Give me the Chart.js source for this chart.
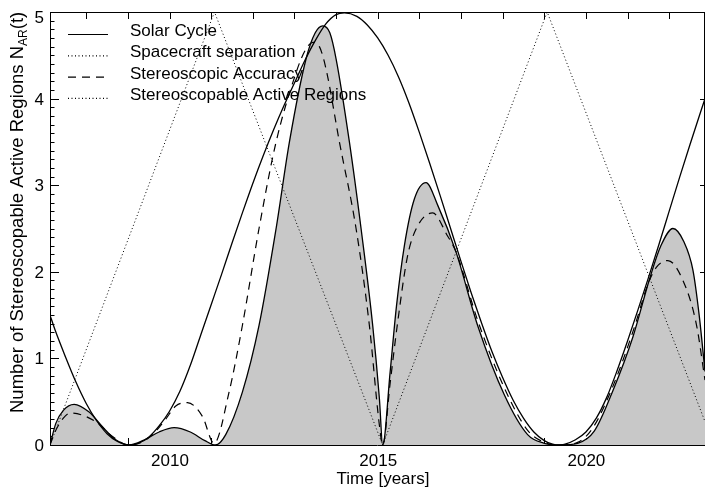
<!DOCTYPE html>
<html lang="en">
<head>
  <meta charset="UTF-8">
  <title>Stereoscopable Active Regions</title>
  <script src="https://cdn.jsdelivr.net/npm/chart.js"></script>
  <style>
    html, body { margin: 0; padding: 0; background: #fff; }
    #wrap { width: 706px; height: 489px; }
  </style>
</head>
<body>
  <div id="wrap"><canvas id="chart" width="706" height="489"></canvas></div>

  <script>
    // values (years, N_AR)
    const solarYears = [2007.13, 2007.25, 2007.5, 2007.75, 2008.0, 2008.25, 2008.5, 2008.75, 2009.03, 2009.25,
      2009.5, 2009.75, 2010.0, 2010.25, 2010.5, 2010.75, 2011.0, 2011.25, 2011.5, 2011.75,
      2012.0, 2012.25, 2012.5, 2012.75, 2013.0, 2013.25, 2013.5, 2013.75, 2014.0, 2014.2,
      2014.5, 2014.75, 2015.0, 2015.25, 2015.5, 2015.75, 2016.0, 2016.25, 2016.5, 2016.75,
      2017.0, 2017.25, 2017.5, 2017.75, 2018.0, 2018.25, 2018.5, 2018.75, 2019.0, 2019.2,
      2019.36, 2019.5, 2019.75, 2020.0, 2020.25, 2020.5, 2020.75, 2021.0, 2021.25, 2021.5,
      2021.75, 2022.0, 2022.25, 2022.5, 2022.75, 2022.86];
    const solarValues = [1.50, 1.33, 1.02, 0.73, 0.48, 0.28, 0.13, 0.04, 0, 0.02,
      0.09, 0.22, 0.39, 0.62, 0.92, 1.27, 1.62, 1.97, 2.33, 2.68,
      3.02, 3.34, 3.64, 3.92, 4.18, 4.44, 4.67, 4.86, 4.97, 4.99,
      4.95, 4.85, 4.7, 4.5, 4.25, 3.95, 3.61, 3.25, 2.88, 2.5,
      2.12, 1.75, 1.4, 1.07, 0.78, 0.52, 0.31, 0.15, 0.05, 0.01,
      0, 0.01, 0.06, 0.15, 0.31, 0.55, 0.86, 1.2, 1.56, 1.93,
      2.31, 2.7, 3.09, 3.47, 3.84, 4.0];

    const sepYears = [2007.13, 2011.08, 2015.12, 2019.07, 2022.86];
    const sepValues = [0, 5, 0, 5, 0.27];

    const accYears = [2007.13, 2007.27, 2007.45, 2007.63, 2007.99, 2008.31, 2008.6, 2009.03, 2009.4, 2009.67,
      2009.91, 2010.15, 2010.43, 2010.79, 2011.07, 2011.43, 2011.75, 2012.15, 2012.56, 2013.04,
      2013.25, 2013.44, 2013.6, 2013.76, 2014.08, 2014.48, 2014.8, 2015.04, 2015.12, 2015.3,
      2015.48, 2015.72, 2015.96, 2016.32, 2016.67, 2016.88, 2017.4, 2018.05, 2018.6, 2019.0,
      2019.36, 2019.8, 2020.17, 2020.65, 2021.13, 2021.5, 2021.69, 2021.97, 2022.33, 2022.65,
      2022.86];
    const accValues = [0, 0.17, 0.31, 0.37, 0.33, 0.24, 0.11, 0, 0.05, 0.16,
      0.30, 0.45, 0.49, 0.33, 0.02, 0.61, 1.38, 2.5, 3.5, 4.3,
      4.55, 4.65, 4.6, 4.34, 3.5, 2.5, 1.38, 0.23, 0, 0.72,
      1.42, 2.19, 2.53, 2.68, 2.42, 2.23, 1.44, 0.65, 0.17, 0.03,
      0, 0.03, 0.2, 0.68, 1.31, 1.87, 2.05, 2.13, 1.90, 1.40,
      0.75];

    const regionYears = [2007.13, 2007.27, 2007.45, 2007.71, 2008.07, 2008.39, 2008.71, 2009.03, 2009.4, 2009.75,
      2010.11, 2010.5, 2010.85, 2011.1, 2011.35, 2011.75, 2012.15, 2012.56, 2012.88, 2013.28,
      2013.5, 2013.68, 2013.85, 2014.0, 2014.32, 2014.6, 2014.88, 2015.04, 2015.12, 2015.3,
      2015.45, 2015.64, 2015.88, 2016.16, 2016.44, 2016.88, 2017.4, 2018.04, 2018.6, 2019.0,
      2019.36, 2019.8, 2020.2, 2020.65, 2021.13, 2021.53, 2021.8, 2022.09, 2022.35, 2022.57,
      2022.72, 2022.86];
    const regionValues = [0, 0.25, 0.40, 0.47, 0.38, 0.21, 0.06, 0, 0.06, 0.15,
      0.20, 0.15, 0.05, 0, 0.12, 0.61, 1.38, 2.5, 3.5, 4.46,
      4.76, 4.84, 4.76, 4.46, 3.5, 2.5, 1.38, 0.54, 0, 0.85,
      1.6, 2.3, 2.84, 3.03, 2.77, 2.23, 1.38, 0.58, 0.12, 0.02,
      0, 0.02, 0.16, 0.63, 1.25, 1.92, 2.3, 2.50, 2.35, 2.02,
      1.5, 0.85];

    const xTickYears = [2008, 2009, 2010, 2011, 2012, 2013, 2014, 2015, 2016, 2017, 2018, 2019, 2020, 2021, 2022];
    const xTickLabels = ['2010', '2015', '2020'];
    const yTickLabels = ['0', '1', '2', '3', '4', '5'];

    const FONT = '"Liberation Sans", Arial, Helvetica, sans-serif';
    const DASH = [8, 6];
    const DOT = [1, 2.5];

    const toPoints = (xs, ys) => xs.map((x, i) => ({ x: x, y: ys[i] }));

    // frame + inward ticks, drawn under the data so the grey fill covers the bottom
    const framePlugin = {
      id: 'frame',
      beforeDatasetsDraw(chart) {
        const { ctx, chartArea: a, scales: { x, y } } = chart;
        ctx.save();
        ctx.strokeStyle = '#000';
        ctx.lineWidth = 1;
        ctx.beginPath();
        ctx.rect(a.left + 0.5, a.top + 0.5, a.right - a.left - 1, a.bottom - a.top);
        ctx.stroke();
        ctx.beginPath();
        xTickYears.forEach(yr => {
          const px = Math.round(x.getPixelForValue(yr)) + 0.5;
          ctx.moveTo(px, a.top); ctx.lineTo(px, a.top + 7);
          ctx.moveTo(px, a.bottom); ctx.lineTo(px, a.bottom - 7);
        });
        for (let i = 0; i <= 50; i++) {
          const v = i / 10;
          const py = Math.round(y.getPixelForValue(v)) + 0.5;
          const len = i % 10 === 0 ? 9 : 4.5;
          ctx.moveTo(a.left, py); ctx.lineTo(a.left + len, py);
          if (i % 10 === 0) { ctx.moveTo(a.right, py); ctx.lineTo(a.right - 5, py); }
        }
        ctx.stroke();
        ctx.restore();
      },
      afterDraw(chart) {
        const { ctx, chartArea: a, scales: { x, y } } = chart;
        ctx.save();
        ctx.fillStyle = '#000';
        ctx.font = '17px ' + FONT;
        ctx.textBaseline = 'alphabetic';

        ctx.textAlign = 'center';
        xTickLabels.forEach(l => ctx.fillText(l, x.getPixelForValue(+l) + 0.5, 466));
        ctx.textAlign = 'right';
        yTickLabels.forEach(l => {
          const py = Math.max(y.getPixelForValue(+l), a.top + 5);
          ctx.fillText(l, 44, py + 6);
        });

        ctx.textAlign = 'center';
        ctx.fillText('Time [years]', 383, 484);

        // y title with subscript
        ctx.save();
        ctx.translate(22.5, 413);
        ctx.rotate(-Math.PI / 2);
        ctx.textAlign = 'left';
        ctx.font = '18.5px ' + FONT;
        const main = 'Number of Stereoscopable Active Regions N';
        ctx.fillText(main, 0, 0);
        let w = ctx.measureText(main).width;
        ctx.font = '12px ' + FONT;
        ctx.fillText('AR', w, 4);
        w += ctx.measureText('AR').width;
        ctx.font = '18.5px ' + FONT;
        ctx.fillText('(t)', w, 0);
        ctx.restore();

        // legend
        const items = [
          ['Solar Cycle', []],
          ['Spacecraft separation', DOT],
          ['Stereoscopic Accuracy', DASH],
          ['Stereoscopable Active Regions', DOT]
        ];
        ctx.font = '17px ' + FONT;
        ctx.textAlign = 'left';
        items.forEach((it, i) => {
          const ly = 34.5 + i * 21.3;
          ctx.beginPath();
          ctx.setLineDash(it[1]);
          ctx.lineWidth = 1.2;
          ctx.moveTo(68, ly); ctx.lineTo(108, ly);
          ctx.stroke();
          ctx.setLineDash([]);
          ctx.fillText(it[0], 130, ly + 1.5);
        });
        ctx.restore();
      }
    };

    new Chart(document.getElementById('chart').getContext('2d'), {
      type: 'line',
      data: {
        datasets: [
          {
            label: 'Solar Cycle',
            data: toPoints(solarYears, solarValues),
            borderColor: '#000',
            borderWidth: 1.3,
            cubicInterpolationMode: 'monotone',
            order: 1
          },
          {
            label: 'Stereoscopic Accuracy',
            data: toPoints(accYears, accValues),
            borderColor: '#000',
            borderWidth: 1.2,
            borderDash: DASH,
            cubicInterpolationMode: 'monotone',
            order: 2
          },
          {
            label: 'Spacecraft separation',
            data: toPoints(sepYears, sepValues),
            borderColor: '#000',
            borderWidth: 1,
            borderDash: DOT,
            tension: 0,
            order: 3
          },
          {
            label: 'Stereoscopable Active Regions',
            data: toPoints(regionYears, regionValues),
            borderColor: '#000',
            borderWidth: 1.3,
            backgroundColor: 'rgb(200,200,200)',
            fill: 'origin',
            cubicInterpolationMode: 'monotone',
            order: 4
          }
        ]
      },
      options: {
        responsive: false,
        animation: false,
        devicePixelRatio: 1,
        layout: { padding: { left: 50, top: 12, right: 1, bottom: 44 } },
        elements: { point: { radius: 0 } },
        scales: {
          x: { type: 'linear', min: 2007.13, max: 2022.86, display: false },
          y: { min: 0, max: 5, display: false }
        },
        plugins: { legend: { display: false }, tooltip: { enabled: false } }
      },
      plugins: [framePlugin]
    });
  </script>
</body>
</html>
